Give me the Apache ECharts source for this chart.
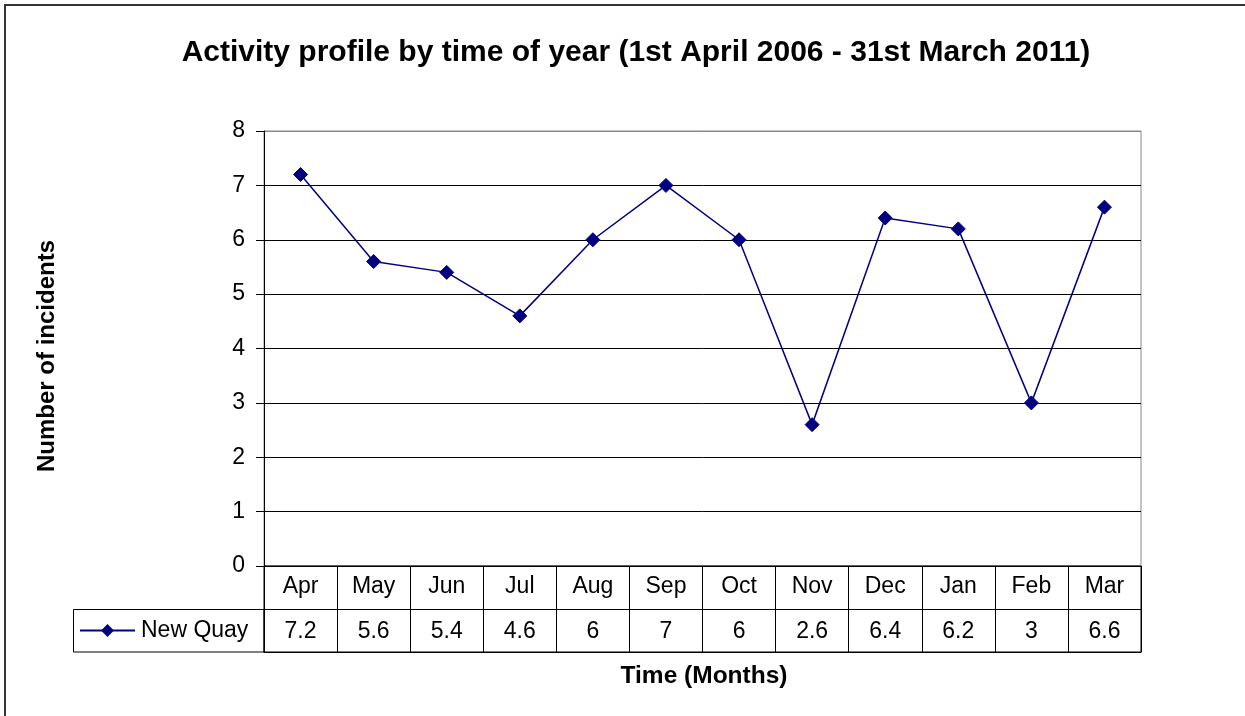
<!DOCTYPE html>
<html>
<head>
<meta charset="utf-8">
<script src="https://cdn.jsdelivr.net/npm/echarts@6/dist/echarts.min.js"></script>
<style>
html,body{margin:0;padding:0;background:#fff;}
#chart{width:1245px;height:716px;}
</style>
</head>
<body>
<div id="chart"></div>
<script>
var months = ['Apr','May','Jun','Jul','Aug','Sep','Oct','Nov','Dec','Jan','Feb','Mar'];
var newQuay = [7.2, 5.6, 5.4, 4.6, 6, 7, 6, 2.6, 6.4, 6.2, 3, 6.6];
var yTicks = [0, 1, 2, 3, 4, 5, 6, 7, 8];
var seriesName = 'New Quay';
var titleText = 'Activity profile by time of year (1st April 2006 - 31st March 2011)';
var yName = 'Number of incidents';
var xName = 'Time (Months)';

var FONT = 'Liberation Sans, Arial, sans-serif';
var NAVY = '#000080';
var chart = echarts.init(document.getElementById('chart'), null, {renderer: 'canvas'});

var gridColors = yTicks.map(function (v, i) { return i === yTicks.length - 1 ? '#888' : '#000'; });

var option = {
  backgroundColor: '#fff',
  animation: false,
  title: {
    text: titleText,
    left: 631, top: 33, textAlign: 'center',
    textStyle: {fontFamily: FONT, fontSize: 30, fontWeight: 'bold', color: '#000'}
  },
  legend: {
    data: [seriesName],
    left: 79, top: 619,
    itemWidth: 55, itemHeight: 16, itemGap: 0,
    textStyle: {fontFamily: FONT, fontSize: 23, color: '#000', padding: [0,0,0,1]},
    padding: 0
  },
  graphic: [
    {type: 'rect', shape: {x: 5, y: 5, width: 1300, height: 800}, style: {fill: 'none', stroke: '#333', lineWidth: 2}, silent: true, z: 100},
    {type: 'rect', shape: {x: 73.5, y: 609.5, width: 190.5, height: 42.5}, style: {fill: 'none', stroke: '#000', lineWidth: 1}, silent: true},
    {type: 'text', x: 704, y: 676, style: {text: xName, font: 'bold 24.5px ' + FONT, fill: '#000', textAlign: 'center', textVerticalAlign: 'middle'}, silent: true},
    {type: 'text', rotation: Math.PI / 2, x: 47, y: 356, style: {text: yName, font: 'bold 24px ' + FONT, fill: '#000', textAlign: 'center', textVerticalAlign: 'middle'}, silent: true}
  ],
  grid: [
    {left: 264, right: 104, top: 131, bottom: 150, show: true, borderColor: '#888', borderWidth: 1, backgroundColor: 'transparent'},
    {left: 264, right: 104, top: 566, bottom: 64, show: true, borderColor: '#000', borderWidth: 1, backgroundColor: 'transparent'}
  ],
  xAxis: [
    {type: 'category', gridIndex: 0, data: months, boundaryGap: true,
     axisLine: {show: true, lineStyle: {color: '#000'}}, axisTick: {show: false}, axisLabel: {show: false}},
    {type: 'category', gridIndex: 1, data: months, position: 'top', boundaryGap: true,
     axisLine: {show: true, lineStyle: {color: '#000'}}, axisTick: {show: false},
     splitLine: {show: true, interval: 0, lineStyle: {color: '#000', width: 1}},
     axisLabel: {show: true, inside: true, interval: 0, margin: 9, fontFamily: FONT, fontSize: 23, color: '#000'}},
    {type: 'category', gridIndex: 1, data: newQuay.map(function (v) { return String(v); }), position: 'bottom', boundaryGap: true,
     axisLine: {show: false}, axisTick: {show: false},
     axisLabel: {show: true, inside: true, interval: 0, margin: 9, fontFamily: FONT, fontSize: 23, color: '#000'}}
  ],
  yAxis: [
    {type: 'value', gridIndex: 0, min: 0, max: 8, interval: 1,
     axisLine: {show: true, lineStyle: {color: '#000'}},
     axisTick: {show: true, length: 8, inside: false, lineStyle: {color: '#000'}},
     axisLabel: {fontFamily: FONT, fontSize: 23, color: '#000', margin: 19,
       formatter: function (v) { return yTicks.indexOf(v) >= 0 ? String(v) : ''; }},
     splitLine: {show: true, lineStyle: {color: gridColors, width: 1}}},
    {type: 'value', gridIndex: 1, min: 0, max: 2, interval: 1,
     axisLine: {show: false}, axisTick: {show: false}, axisLabel: {show: false},
     splitLine: {show: true, lineStyle: {color: '#000', width: 1}}}
  ],
  series: [
    {name: seriesName, type: 'line', xAxisIndex: 0, yAxisIndex: 0, data: newQuay,
     symbol: 'diamond', symbolSize: 14, showAllSymbol: true,
     lineStyle: {color: NAVY, width: 1.5},
     itemStyle: {color: NAVY, borderColor: NAVY},
     emphasis: {disabled: true}}
  ]
};
chart.setOption(option);
</script>
</body>
</html>
